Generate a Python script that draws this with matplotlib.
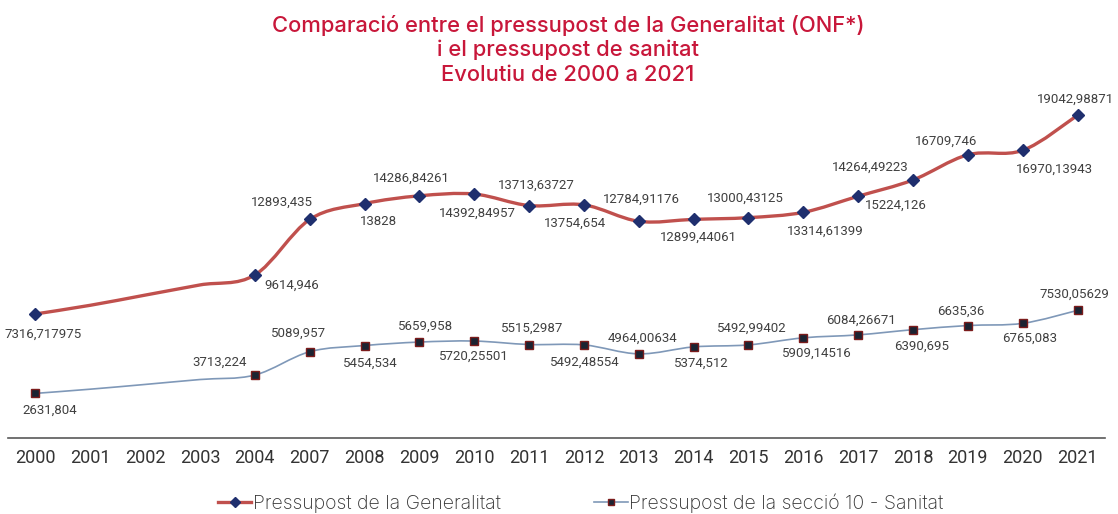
import matplotlib
matplotlib.use("Agg")
import matplotlib.pyplot as plt
import numpy as np
from matplotlib.path import Path
from matplotlib.patches import PathPatch
from matplotlib.lines import Line2D

plt.rcParams["font.family"] = ["Roboto", "DejaVu Sans"]

years = ["2000", "2001", "2002", "2003", "2004", "2007", "2008", "2009", "2010", "2011",
         "2012", "2013", "2014", "2015", "2016", "2017", "2018", "2019", "2020", "2021"]

generalitat = [7316.717975, 7830, 8430, 9030, 9614.946, 12893.435, 13828, 14286.84261,
               14392.84957, 13713.63727, 13754.654, 12784.91176, 12899.44061, 13000.43125,
               13314.61399, 14264.49223, 15224.126, 16709.746, 16970.13943, 19042.98871]
gen_labels = ["7316,717975", "", "", "", "9614,946", "12893,435", "13828", "14286,84261",
              "14392,84957", "13713,63727", "13754,654", "12784,91176", "12899,44061",
              "13000,43125", "13314,61399", "14264,49223", "15224,126", "16709,746",
              "16970,13943", "19042,98871"]

sanitat = [2631.804, 2880, 3160, 3450, 3713.224, 5089.957, 5454.534, 5659.958, 5720.25501,
           5515.2987, 5492.48554, 4964.00634, 5374.512, 5492.99402, 5909.14516, 6084.26671,
           6390.695, 6635.36, 6765.083, 7530.05629]
san_labels = ["2631,804", "", "", "", "3713,224", "5089,957", "5454,534", "5659,958",
              "5720,25501", "5515,2987", "5492,48554", "4964,00634", "5374,512",
              "5492,99402", "5909,14516", "6084,26671", "6390,695", "6635,36", "6765,083",
              "7530,05629"]

# label offsets in pixels (dx, dy-down)
gen_off = [(8, 20), None, None, None, (37, 10), (-28, -17), (14, 18), (-8, -18), (3, 19),
           (7, -20), (-9, 18), (3, -22), (5, 18), (-3, -19), (22, 19), (12, -29), (-17, 25),
           (-22, -14), (32, 19), (-2, -16)]
san_off = [(14, 17), None, None, None, (-35, -13), (-11, -18), (6, 18), (6, -16), (0, 15),
           (3, -16), (1, 17), (4, -16), (8, 16), (3, -17), (14, 15), (3, -15), (9, 17),
           (-7, -14), (7, 15), (-3, -16)]


def smooth_path(xs, ys):
    pts = np.column_stack([xs, ys])
    n = len(pts)
    verts = [pts[0]]
    codes = [Path.MOVETO]
    for i in range(n - 1):
        p0 = pts[max(i - 1, 0)]
        p1 = pts[i]
        p2 = pts[i + 1]
        p3 = pts[min(i + 2, n - 1)]
        verts += [p1 + (p2 - p0) / 6, p2 - (p3 - p1) / 6, p2]
        codes += [Path.CURVE4] * 3
    return Path(verts, codes)


RED = "#c0504d"
NAVY = "#1f2f6e"
BLUE = "#7f98b8"
SQ_FACE = "#1a2332"
SQ_EDGE = "#7b1c1c"
TXT = "#404040"
WIDE = ["Inter", "DejaVu Sans"]

fig = plt.figure(figsize=(11.18, 5.14), dpi=100)
ax = fig.add_axes([8 / 1118, 1 - 438 / 514, 1097 / 1118, 339 / 514])

x = np.arange(len(years))
gen = np.array(generalitat)
san = np.array(sanitat)
has_marker = np.array([lab != "" for lab in gen_labels])

ax.add_patch(PathPatch(smooth_path(x, gen), facecolor="none", edgecolor=RED, lw=2.4,
                       capstyle="round", zorder=2))
ax.add_patch(PathPatch(smooth_path(x, san), facecolor="none", edgecolor=BLUE, lw=1.2,
                       zorder=2))
ax.plot(x[has_marker], gen[has_marker], ls="none", marker="D", ms=6.5, color=NAVY, zorder=3)
ax.plot(x[has_marker], san[has_marker], ls="none", marker="s", ms=5.5, mfc=SQ_FACE,
        mec=SQ_EDGE, mew=1, zorder=3)

for xi, yi, lab, off in zip(x, gen, gen_labels, gen_off):
    if lab:
        ax.annotate(lab, (xi, yi), xytext=(off[0], -off[1]), textcoords="offset pixels",
                    ha="center", va="center", fontsize=9.5, color=TXT)
for xi, yi, lab, off in zip(x, san, san_labels, san_off):
    if lab:
        ax.annotate(lab, (xi, yi), xytext=(off[0], -off[1]), textcoords="offset pixels",
                    ha="center", va="center", fontsize=9.5, color=TXT)

ax.set_xlim(-0.5, len(years) - 0.5)
ax.set_ylim(0, 20000)
ax.set_xticks(x)
ax.set_xticklabels(years)
ax.tick_params(axis="x", length=0, labelsize=13, labelcolor="#333333", pad=8)
ax.set_yticks([])
for s in ["top", "left", "right"]:
    ax.spines[s].set_visible(False)
ax.spines["bottom"].set_color("#595959")
ax.spines["bottom"].set_linewidth(1.2)

title_color = "#c8173a"
title_lines = ["Comparació entre el pressupost de la Generalitat (ONF*)",
               "i el pressupost de sanitat", "Evolutiu de 2000 a 2021"]
for line, ypx in zip(title_lines, [25, 50, 75]):
    fig.text(0.508, 1 - ypx / 514, line, ha="center", va="center", fontsize=15.8,
             color=title_color, family=WIDE, fontweight="medium")

handles = [
    Line2D([], [], color=RED, lw=2.4, marker="D", ms=5, mfc=NAVY, mec=NAVY),
    Line2D([], [], color=BLUE, lw=1.2, marker="s", ms=5, mfc=SQ_FACE, mec=SQ_EDGE),
]
fig.legend(handles, ["Pressupost de la Generalitat", "Pressupost de la secció 10 - Sanitat"],
           loc="center", bbox_to_anchor=(581 / 1118, 1 - 503 / 514), ncol=2, frameon=False,
           handlelength=1.7, handletextpad=0.1, columnspacing=4.8, labelcolor="#333333",
           prop={"family": WIDE, "size": 14, "weight": "light"})

fig.savefig("out.png", dpi=100)
